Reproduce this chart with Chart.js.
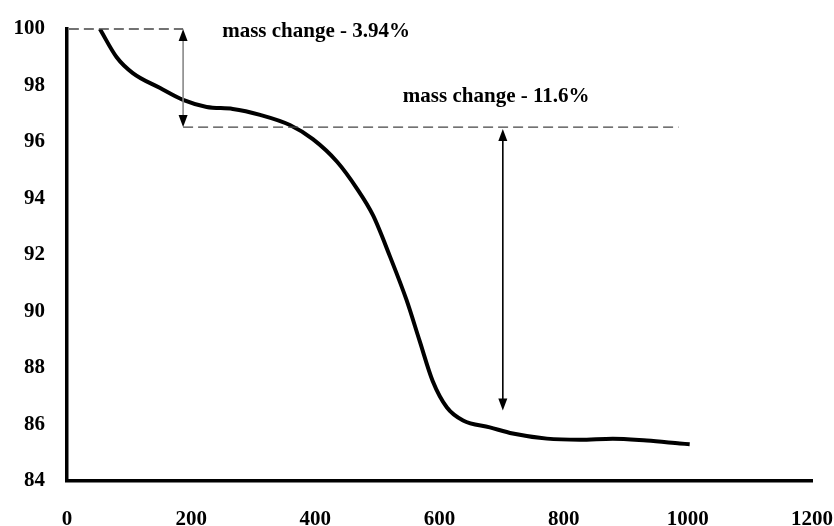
<!DOCTYPE html>
<html>
<head>
<meta charset="utf-8">
<script src="https://cdn.jsdelivr.net/npm/chart.js@4"></script>
<style>
    html, body { margin: 0; padding: 0; background: #fff; }
    #wrap { width: 834px; height: 526px; }
</style>
</head>
<body>
<div id="wrap"><canvas id="tgaChart" width="834" height="526"></canvas></div>
<script>
// temperature vs mass
const temps = [53, 80, 106, 150, 187, 225, 267, 311, 359, 396, 435, 467, 493, 520, 547, 568, 589, 612, 638, 681, 718, 773, 826, 879, 934, 987, 1003];
const mass = [100, 99.0, 98.44, 97.91, 97.49, 97.24, 97.17, 96.96, 96.6, 96.1, 95.3, 94.35, 93.4, 91.96, 90.4, 88.96, 87.54, 86.6, 86.14, 85.9, 85.68, 85.5, 85.46, 85.5, 85.43, 85.33, 85.3];

// annotation levels (data units)
const stepLevels = [100, 96.53, 86.5];
const stepX = [3, 187, 702, 985];
const stepLabels = ['mass change - 3.94%', 'mass change - 11.6%'];

const serif = '"Liberation Serif", "Times New Roman", serif';

const annotate = {
    id: 'annotate',
    afterDatasetsDraw(chart) {
        const ctx = chart.ctx;
        const xs = chart.scales.x, ys = chart.scales.y;
        const x0 = xs.getPixelForValue(stepX[0]);
        const x1 = xs.getPixelForValue(stepX[1]);
        const x2 = xs.getPixelForValue(stepX[2]);
        const x3 = xs.getPixelForValue(stepX[3]);
        const yTop = ys.getPixelForValue(stepLevels[0]);
        const yMid = ys.getPixelForValue(stepLevels[1]);
        const yLow = ys.getPixelForValue(stepLevels[2]);

        ctx.save();
        // dashed levels
        ctx.strokeStyle = '#444';
        ctx.lineWidth = 1.3;
        ctx.setLineDash([10, 5]);
        ctx.beginPath();
        ctx.moveTo(x0, yTop); ctx.lineTo(x1, yTop);
        ctx.moveTo(x1, yMid); ctx.lineTo(x3, yMid);
        ctx.stroke();
        ctx.setLineDash([]);

        drawArrow(ctx, x1, yTop, yMid, '#888');
        drawArrow(ctx, x2, yMid + 2, yLow, '#000');

        ctx.fillStyle = '#000';
        ctx.font = 'bold 21px ' + serif;
        ctx.textBaseline = 'middle';
        ctx.textAlign = 'left';
        ctx.fillText(stepLabels[0], xs.getPixelForValue(250), ys.getPixelForValue(99.92));
        ctx.fillText(stepLabels[1], xs.getPixelForValue(541), ys.getPixelForValue(97.62));
        ctx.restore();
    }
};

function drawArrow(ctx, x, yA, yB, lineColor) {
    const head = 12, half = 4.5;
    ctx.strokeStyle = lineColor;
    ctx.lineWidth = 1.6;
    ctx.beginPath();
    ctx.moveTo(x, yA + head - 1);
    ctx.lineTo(x, yB - head + 1);
    ctx.stroke();
    ctx.fillStyle = '#000';
    ctx.beginPath();
    ctx.moveTo(x, yA); ctx.lineTo(x - half, yA + head); ctx.lineTo(x + half, yA + head);
    ctx.closePath(); ctx.fill();
    ctx.beginPath();
    ctx.moveTo(x, yB); ctx.lineTo(x - half, yB - head); ctx.lineTo(x + half, yB - head);
    ctx.closePath(); ctx.fill();
}

const ctx = document.getElementById('tgaChart').getContext('2d');
new Chart(ctx, {
    type: 'line',
    data: {
        datasets: [{
            data: temps.map((t, i) => ({ x: t, y: mass[i] })),
            borderColor: '#000',
            borderWidth: 4,
            pointRadius: 0,
            cubicInterpolationMode: 'monotone',
            fill: false
        }]
    },
    options: {
        responsive: false,
        animation: false,
        layout: { padding: { top: 29, right: 0, left: 0, bottom: 0 } },
        plugins: { legend: { display: false }, tooltip: { enabled: false } },
        scales: {
            x: {
                type: 'linear',
                min: 0,
                max: 1200,
                ticks: {
                    stepSize: 200,
                    color: '#000',
                    padding: 18,
                    maxRotation: 0,
                    callback: v => String(v),
                    font: { family: serif, size: 21, weight: 'bold' }
                },
                grid: { display: false },
                border: { display: true, color: '#000', width: 3.5 },
                afterFit(scale) {
                    scale.height = 45;
                    scale.paddingRight = 22;
                    scale.paddingLeft = 0;
                }
            },
            y: {
                min: 84,
                max: 100,
                ticks: {
                    stepSize: 2,
                    color: '#000',
                    padding: 14,
                    font: { family: serif, size: 21, weight: 'bold' }
                },
                grid: { display: false },
                border: { display: true, color: '#000', width: 3.5 },
                afterFit(scale) { scale.width = 67; }
            }
        }
    },
    plugins: [annotate]
});
</script>
</body>
</html>
